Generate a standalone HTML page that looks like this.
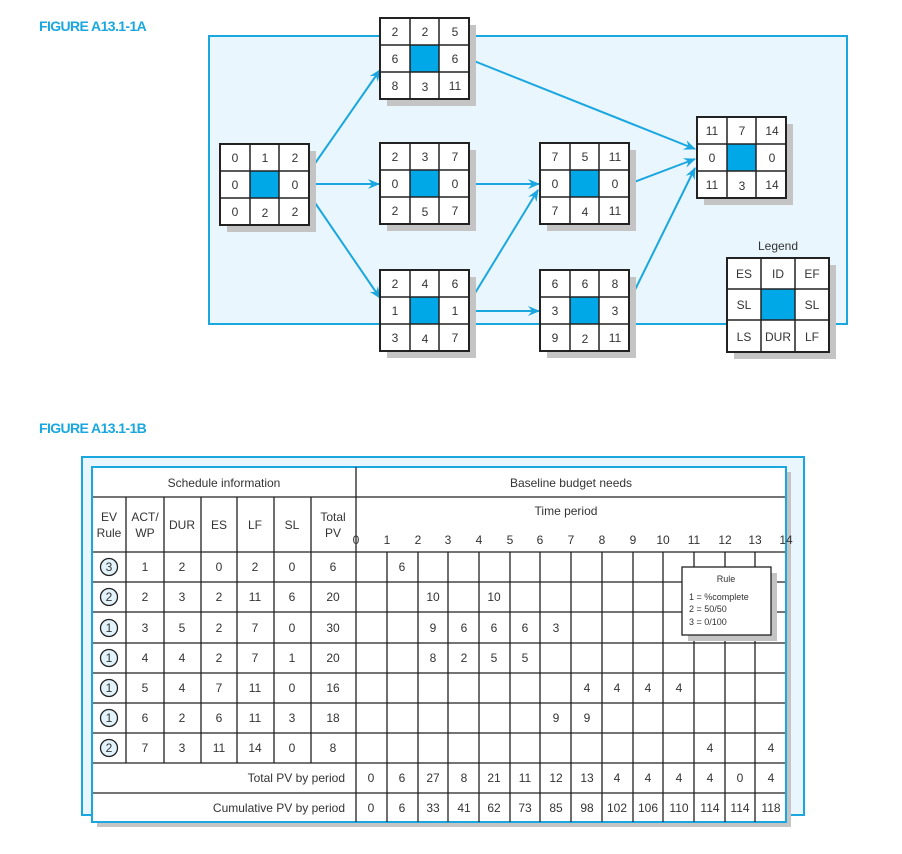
<!DOCTYPE html>
<html><head><meta charset="utf-8"><style>
html,body{margin:0;padding:0;background:#fff;}
svg{display:block;font-family:"Liberation Sans",sans-serif;}
.t{font-size:12px;fill:#333;text-anchor:middle;}
.s{font-size:11px;fill:#333;text-anchor:middle;}
.ttl{font-size:14px;font-weight:bold;fill:#1aa7e0;letter-spacing:-0.6px;}
.ar{stroke:#1aa7e0;stroke-width:2;fill:none;marker-end:url(#ah);}
</style></head><body>
<svg width="902" height="854" viewBox="0 0 902 854">
<defs>
<marker id="ah" markerWidth="12" markerHeight="10" refX="11" refY="5" orient="auto" markerUnits="userSpaceOnUse">
<path d="M0,0 L12,5 L0,10 L4,5 Z" fill="#1aa7e0"/></marker>
<g id="node">
<rect x="7" y="7" width="89" height="81" fill="#c4c4c4"/>
<rect x="0" y="0" width="89" height="81" fill="#fff" stroke="#222" stroke-width="2"/>
<rect x="30" y="27" width="29" height="27" fill="#00a8e8"/>
<path d="M30,0V81M59,0V81M0,27H89M0,54H89" stroke="#222" stroke-width="1.5"/>
</g>
</defs>
<text x="39" y="31" class="ttl">FIGURE A13.1-1A</text>
<rect x="209" y="36" width="638" height="288" fill="#eaf6fd" stroke="#1aa7e0" stroke-width="2"/>

<line x1="309" y1="172" x2="380" y2="70" class="ar"/>
<line x1="309" y1="184" x2="379" y2="184" class="ar"/>
<line x1="309" y1="194" x2="380" y2="298" class="ar"/>
<line x1="469" y1="59" x2="695" y2="149" class="ar"/>
<line x1="469" y1="184" x2="539" y2="184" class="ar"/>
<line x1="469" y1="303" x2="538" y2="190" class="ar"/>
<line x1="469" y1="311" x2="539" y2="311" class="ar"/>
<line x1="629" y1="184" x2="695" y2="159" class="ar"/>
<line x1="629" y1="302" x2="695" y2="168" class="ar"/>

<g transform="translate(220,144)"><use href="#node"/>
<text x="15" y="18" class="t">0</text><text x="45" y="18" class="t">1</text><text x="75" y="18" class="t">2</text>
<text x="15" y="45" class="t">0</text><text x="75" y="45" class="t">0</text>
<text x="15" y="72" class="t">0</text><text x="45" y="73" class="t">2</text><text x="75" y="72" class="t">2</text></g>
<g transform="translate(380,18)"><use href="#node"/>
<text x="15" y="18" class="t">2</text><text x="45" y="18" class="t">2</text><text x="75" y="18" class="t">5</text>
<text x="15" y="45" class="t">6</text><text x="75" y="45" class="t">6</text>
<text x="15" y="72" class="t">8</text><text x="45" y="73" class="t">3</text><text x="75" y="72" class="t">11</text></g>
<g transform="translate(380,143)"><use href="#node"/>
<text x="15" y="18" class="t">2</text><text x="45" y="18" class="t">3</text><text x="75" y="18" class="t">7</text>
<text x="15" y="45" class="t">0</text><text x="75" y="45" class="t">0</text>
<text x="15" y="72" class="t">2</text><text x="45" y="73" class="t">5</text><text x="75" y="72" class="t">7</text></g>
<g transform="translate(380,270)"><use href="#node"/>
<text x="15" y="18" class="t">2</text><text x="45" y="18" class="t">4</text><text x="75" y="18" class="t">6</text>
<text x="15" y="45" class="t">1</text><text x="75" y="45" class="t">1</text>
<text x="15" y="72" class="t">3</text><text x="45" y="73" class="t">4</text><text x="75" y="72" class="t">7</text></g>
<g transform="translate(540,143)"><use href="#node"/>
<text x="15" y="18" class="t">7</text><text x="45" y="18" class="t">5</text><text x="75" y="18" class="t">11</text>
<text x="15" y="45" class="t">0</text><text x="75" y="45" class="t">0</text>
<text x="15" y="72" class="t">7</text><text x="45" y="73" class="t">4</text><text x="75" y="72" class="t">11</text></g>
<g transform="translate(540,270)"><use href="#node"/>
<text x="15" y="18" class="t">6</text><text x="45" y="18" class="t">6</text><text x="75" y="18" class="t">8</text>
<text x="15" y="45" class="t">3</text><text x="75" y="45" class="t">3</text>
<text x="15" y="72" class="t">9</text><text x="45" y="73" class="t">2</text><text x="75" y="72" class="t">11</text></g>
<g transform="translate(697,117)"><use href="#node"/>
<text x="15" y="18" class="t">11</text><text x="45" y="18" class="t">7</text><text x="75" y="18" class="t">14</text>
<text x="15" y="45" class="t">0</text><text x="75" y="45" class="t">0</text>
<text x="15" y="72" class="t">11</text><text x="45" y="73" class="t">3</text><text x="75" y="72" class="t">14</text></g>

<text x="778" y="250" class="t">Legend</text>
<g transform="translate(727,258)">
<rect x="7" y="7" width="102" height="94" fill="#c4c4c4"/>
<rect x="0" y="0" width="102" height="94" fill="#fff" stroke="#222" stroke-width="2"/>
<rect x="34" y="31" width="34" height="31" fill="#00a8e8"/>
<path d="M34,0V94M68,0V94M0,31H102M0,62H102" stroke="#222" stroke-width="1.5"/>
<text x="17" y="20" class="t">ES</text><text x="51" y="20" class="t">ID</text><text x="85" y="20" class="t">EF</text>
<text x="17" y="51" class="t">SL</text><text x="85" y="51" class="t">SL</text>
<text x="17" y="83" class="t">LS</text><text x="51" y="83" class="t">DUR</text><text x="85" y="83" class="t">LF</text>
</g>

<text x="39" y="433" class="ttl">FIGURE A13.1-1B</text>
<rect x="82" y="457" width="722" height="358" fill="#eaf6fd" stroke="#1aa7e0" stroke-width="2"/>
<rect x="97" y="472" width="694" height="355" fill="#c4c4c4"/>
<rect x="92" y="467" width="694" height="355" fill="#fff" stroke="#1aa7e0" stroke-width="2"/>
<g stroke="#222" stroke-width="1.3" fill="none">
<path d="M93,497H785M93,552H785M93,582H785M93,612H785M93,643H785M93,673H785M93,703H785M93,733H785M93,763H785M93,793H785"/>
<path d="M356,467V822M126,497V763M164,497V763M201,497V763M237,497V763M274,497V763M311,497V763"/>
<path d="M387,552V822M418,552V822M448,552V822M479,552V822M510,552V822M540,552V822M571,552V822M602,552V822M633,552V822M663,552V822M694,552V822M725,552V822M755,552V822"/>
</g>
<text x="224" y="487" class="t">Schedule information</text>
<text x="571" y="487" class="t">Baseline budget needs</text>
<text x="566" y="515" class="t">Time period</text>
<text x="109" y="521" class="t">EV</text><text x="109" y="537" class="t">Rule</text>
<text x="145" y="521" class="t">ACT/</text><text x="145" y="537" class="t">WP</text>
<text x="182" y="529" class="t">DUR</text><text x="219" y="529" class="t">ES</text><text x="255" y="529" class="t">LF</text><text x="292" y="529" class="t">SL</text>
<text x="333" y="521" class="t">Total</text><text x="333" y="537" class="t">PV</text>
<g class="t">
<text x="356" y="544" class="t">0</text><text x="387" y="544" class="t">1</text><text x="418" y="544" class="t">2</text><text x="448" y="544" class="t">3</text><text x="479" y="544" class="t">4</text><text x="510" y="544" class="t">5</text><text x="540" y="544" class="t">6</text><text x="571" y="544" class="t">7</text><text x="602" y="544" class="t">8</text><text x="633" y="544" class="t">9</text><text x="663" y="544" class="t">10</text><text x="694" y="544" class="t">11</text><text x="725" y="544" class="t">12</text><text x="755" y="544" class="t">13</text><text x="786" y="544" class="t">14</text>
</g>
<g fill="#e3f3fb" stroke="#222" stroke-width="1.3">
<circle cx="109" cy="567" r="8.5"/><circle cx="109" cy="597" r="8.5"/><circle cx="109" cy="628" r="8.5"/><circle cx="109" cy="658" r="8.5"/><circle cx="109" cy="688" r="8.5"/><circle cx="109" cy="718" r="8.5"/><circle cx="109" cy="748" r="8.5"/>
</g>
<text x="109" y="571" class="t">3</text><text x="145" y="571" class="t">1</text><text x="182" y="571" class="t">2</text><text x="219" y="571" class="t">0</text><text x="255" y="571" class="t">2</text><text x="292" y="571" class="t">0</text><text x="333" y="571" class="t">6</text>
<text x="109" y="601" class="t">2</text><text x="145" y="601" class="t">2</text><text x="182" y="601" class="t">3</text><text x="219" y="601" class="t">2</text><text x="255" y="601" class="t">11</text><text x="292" y="601" class="t">6</text><text x="333" y="601" class="t">20</text>
<text x="109" y="632" class="t">1</text><text x="145" y="632" class="t">3</text><text x="182" y="632" class="t">5</text><text x="219" y="632" class="t">2</text><text x="255" y="632" class="t">7</text><text x="292" y="632" class="t">0</text><text x="333" y="632" class="t">30</text>
<text x="109" y="662" class="t">1</text><text x="145" y="662" class="t">4</text><text x="182" y="662" class="t">4</text><text x="219" y="662" class="t">2</text><text x="255" y="662" class="t">7</text><text x="292" y="662" class="t">1</text><text x="333" y="662" class="t">20</text>
<text x="109" y="692" class="t">1</text><text x="145" y="692" class="t">5</text><text x="182" y="692" class="t">4</text><text x="219" y="692" class="t">7</text><text x="255" y="692" class="t">11</text><text x="292" y="692" class="t">0</text><text x="333" y="692" class="t">16</text>
<text x="109" y="722" class="t">1</text><text x="145" y="722" class="t">6</text><text x="182" y="722" class="t">2</text><text x="219" y="722" class="t">6</text><text x="255" y="722" class="t">11</text><text x="292" y="722" class="t">3</text><text x="333" y="722" class="t">18</text>
<text x="109" y="752" class="t">2</text><text x="145" y="752" class="t">7</text><text x="182" y="752" class="t">3</text><text x="219" y="752" class="t">11</text><text x="255" y="752" class="t">14</text><text x="292" y="752" class="t">0</text><text x="333" y="752" class="t">8</text>

<text x="402" y="571" class="t">6</text>
<text x="433" y="601" class="t">10</text><text x="494" y="601" class="t">10</text>
<text x="433" y="632" class="t">9</text><text x="464" y="632" class="t">6</text><text x="494" y="632" class="t">6</text><text x="525" y="632" class="t">6</text><text x="556" y="632" class="t">3</text>
<text x="433" y="662" class="t">8</text><text x="464" y="662" class="t">2</text><text x="494" y="662" class="t">5</text><text x="525" y="662" class="t">5</text>
<text x="587" y="692" class="t">4</text><text x="617" y="692" class="t">4</text><text x="648" y="692" class="t">4</text><text x="679" y="692" class="t">4</text>
<text x="556" y="722" class="t">9</text><text x="587" y="722" class="t">9</text>
<text x="710" y="752" class="t">4</text><text x="771" y="752" class="t">4</text>

<text x="345" y="782" class="t" style="text-anchor:end">Total PV by period</text>
<text x="345" y="812" class="t" style="text-anchor:end">Cumulative PV by period</text>
<text x="371" y="782" class="t">0</text><text x="402" y="782" class="t">6</text><text x="433" y="782" class="t">27</text><text x="464" y="782" class="t">8</text><text x="494" y="782" class="t">21</text><text x="525" y="782" class="t">11</text><text x="556" y="782" class="t">12</text><text x="587" y="782" class="t">13</text><text x="617" y="782" class="t">4</text><text x="648" y="782" class="t">4</text><text x="679" y="782" class="t">4</text><text x="710" y="782" class="t">4</text><text x="740" y="782" class="t">0</text><text x="771" y="782" class="t">4</text>
<text x="371" y="812" class="t">0</text><text x="402" y="812" class="t">6</text><text x="433" y="812" class="t">33</text><text x="464" y="812" class="t">41</text><text x="494" y="812" class="t">62</text><text x="525" y="812" class="t">73</text><text x="556" y="812" class="t">85</text><text x="587" y="812" class="t">98</text><text x="617" y="812" class="t">102</text><text x="648" y="812" class="t">106</text><text x="679" y="812" class="t">110</text><text x="710" y="812" class="t">114</text><text x="740" y="812" class="t">114</text><text x="771" y="812" class="t">118</text>

<rect x="688" y="573" width="89" height="68" fill="#c4c4c4"/>
<rect x="682" y="567" width="89" height="68" fill="#fff" stroke="#222" stroke-width="1.3"/>
<text x="726" y="582" style="font-size:9px;fill:#333;text-anchor:middle">Rule</text>
<text x="689" y="600" style="font-size:9px;fill:#333">1 = %complete</text>
<text x="689" y="612" style="font-size:9px;fill:#333">2 = 50/50</text>
<text x="689" y="625" style="font-size:9px;fill:#333">3 = 0/100</text>
</svg>
</body></html>
